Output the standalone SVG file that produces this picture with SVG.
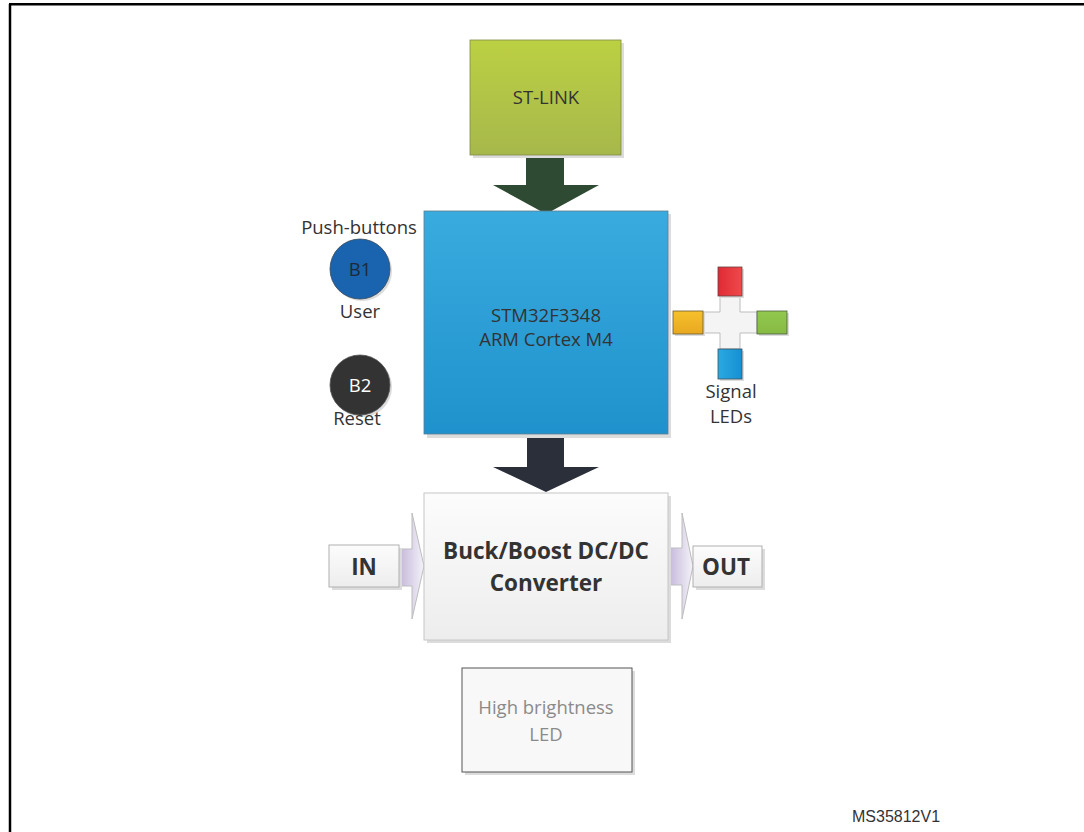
<svg xmlns="http://www.w3.org/2000/svg" width="1084" height="832" viewBox="0 0 1084 832">
<defs>
<linearGradient id="gGreen" x1="0" y1="0" x2="0" y2="1"><stop offset="0" stop-color="#BCD043"/><stop offset="1" stop-color="#A7B84B"/></linearGradient>
<linearGradient id="gBlue" x1="0" y1="0" x2="0" y2="1"><stop offset="0" stop-color="#3AABDE"/><stop offset="1" stop-color="#1F92CD"/></linearGradient>
<linearGradient id="gGray" x1="0" y1="0" x2="0" y2="1"><stop offset="0" stop-color="#FCFCFC"/><stop offset="1" stop-color="#EDEDED"/></linearGradient>
<linearGradient id="gPurple" x1="0" y1="0" x2="1" y2="0"><stop offset="0" stop-color="#C3B6DA"/><stop offset="1" stop-color="#F4F2F8"/></linearGradient>
<linearGradient id="gRed" x1="0" y1="0" x2="1" y2="0"><stop offset="0" stop-color="#E02A35"/><stop offset="1" stop-color="#EE4A4A"/></linearGradient>
<linearGradient id="gYel" x1="0" y1="0" x2="0" y2="1"><stop offset="0" stop-color="#F6C12C"/><stop offset="1" stop-color="#E8A820"/></linearGradient>
<linearGradient id="gGrn" x1="0" y1="0" x2="0" y2="1"><stop offset="0" stop-color="#93C84E"/><stop offset="1" stop-color="#86BA44"/></linearGradient>
<linearGradient id="gLb" x1="0" y1="0" x2="1" y2="0"><stop offset="0" stop-color="#2AA9E2"/><stop offset="1" stop-color="#1590D2"/></linearGradient>
</defs>
<style>
.t{font-family:"Open Sans","Noto Sans",sans-serif;fill:#333;text-anchor:middle;font-size:18.5px}
.sh{fill:#DCDCDC}
.b{font-weight:bold;font-size:22.5px}
.g{fill:#8A8A8A}
</style>
<g id="frame" fill="none" stroke="#000" stroke-width="2.5">
<line x1="9" y1="4.3" x2="1084" y2="4.3"/>
<line x1="10" y1="4" x2="10" y2="832"/>
</g>
<g id="connectors">
<polygon points="526,155 564,155 564,185 599,185 546,214 493,185 526,185" fill="#2F4A33"/>
<polygon points="527,434 564,434 564,467 599,467 546,492 493,467 527,467" fill="#2B2F3A"/>
<g id="in-arrow">
<polygon points="399,549 412,549 412,513 424,566 412,619 412,586 399,586" fill="url(#gPurple)" stroke="#BDBDBD" stroke-width="1"/>
</g>
<g id="out-arrow">
<polygon points="668,548 682,548 682,513 693,566 682,619 682,585 668,585" fill="url(#gPurple)" stroke="#BDBDBD" stroke-width="1"/>
</g>
</g>
<g id="stlink">
<rect x="473" y="43" width="151" height="115" class="sh"/>
<rect x="470" y="40" width="151" height="115" fill="url(#gGreen)" stroke="#7F8A4A" stroke-width="0.8"/>
<text x="546" y="104" class="t">ST-LINK</text>
</g>
<g id="mcu">
<rect x="427" y="214" width="244" height="224" class="sh"/>
<rect x="424" y="211" width="244" height="223" fill="url(#gBlue)" stroke="#5E7D8F" stroke-width="0.8"/>
<text x="546" y="322" class="t">STM32F3348</text>
<text x="546" y="346" class="t">ARM Cortex M4</text>
</g>
<g id="converter">
<rect x="427" y="496" width="244" height="147" class="sh"/>
<rect x="424" y="493" width="244" height="147" fill="url(#gGray)" stroke="#C6C6C6" stroke-width="1"/>
<text x="546" y="559" class="t b">Buck/Boost DC/DC</text>
<text x="546" y="591" class="t b">Converter</text>
</g>
<g id="in">
<rect x="332" y="548" width="70" height="42" class="sh"/>
<rect x="329" y="545" width="70" height="42" fill="url(#gGray)" stroke="#B0B0B0" stroke-width="1"/>
<text x="364" y="575" class="t b">IN</text>
</g>
<g id="out">
<rect x="696" y="549" width="69" height="41" class="sh"/>
<rect x="693" y="546" width="69" height="41" fill="url(#gGray)" stroke="#B0B0B0" stroke-width="1"/>
<text x="726" y="575" class="t b">OUT</text>
</g>
<g id="hbled">
<rect x="465" y="671" width="170" height="104" class="sh"/>
<rect x="462" y="668" width="170" height="104" fill="#F8F8F8" stroke="#555" stroke-width="1"/>
<text x="546" y="714" class="t g">High brightness</text>
<text x="546" y="741" class="t g">LED</text>
</g>
<g id="buttons">
<text x="359" y="234" class="t">Push-buttons</text>
<circle cx="362" cy="271" r="30" class="sh"/>
<circle cx="360" cy="269" r="30" fill="#1A63AE" stroke="#3A4A5A" stroke-width="0.8"/>
<text x="360" y="276" class="t" style="fill:#1E2A3A">B1</text>
<text x="360" y="318" class="t">User</text>
<circle cx="362" cy="387" r="30" class="sh"/>
<circle cx="360" cy="385" r="30" fill="#333333" stroke="#555" stroke-width="0.8"/>
<text x="360" y="392" class="t" style="fill:#FFFFFF">B2</text>
<text x="357" y="425" class="t">Reset</text>
</g>
<g id="leds">
<path d="M720,296 H740 V312 H757 V333 H740 V349 H720 V333 H703 V312 H720 Z" fill="#F4F4F4" stroke="#BDBDBD" stroke-width="1"/>
<rect x="720" y="269" width="24" height="29" class="sh"/>
<rect x="718" y="267" width="24" height="29" fill="url(#gRed)" stroke="#6A4040" stroke-width="0.8"/>
<rect x="675" y="313" width="30" height="23" class="sh"/>
<rect x="673" y="311" width="30" height="23" fill="url(#gYel)" stroke="#6A5A30" stroke-width="0.8"/>
<rect x="759" y="313" width="30" height="23" class="sh"/>
<rect x="757" y="311" width="30" height="23" fill="url(#gGrn)" stroke="#4A6040" stroke-width="0.8"/>
<rect x="720" y="351" width="24" height="30" class="sh"/>
<rect x="718" y="349" width="24" height="30" fill="url(#gLb)" stroke="#3A5060" stroke-width="0.8"/>
<text x="731" y="398" class="t">Signal</text>
<text x="731" y="423" class="t">LEDs</text>
</g>
<text x="852" y="822" font-family="Liberation Sans, Arial, sans-serif" font-size="16" fill="#333">MS35812V1</text>
</svg>
